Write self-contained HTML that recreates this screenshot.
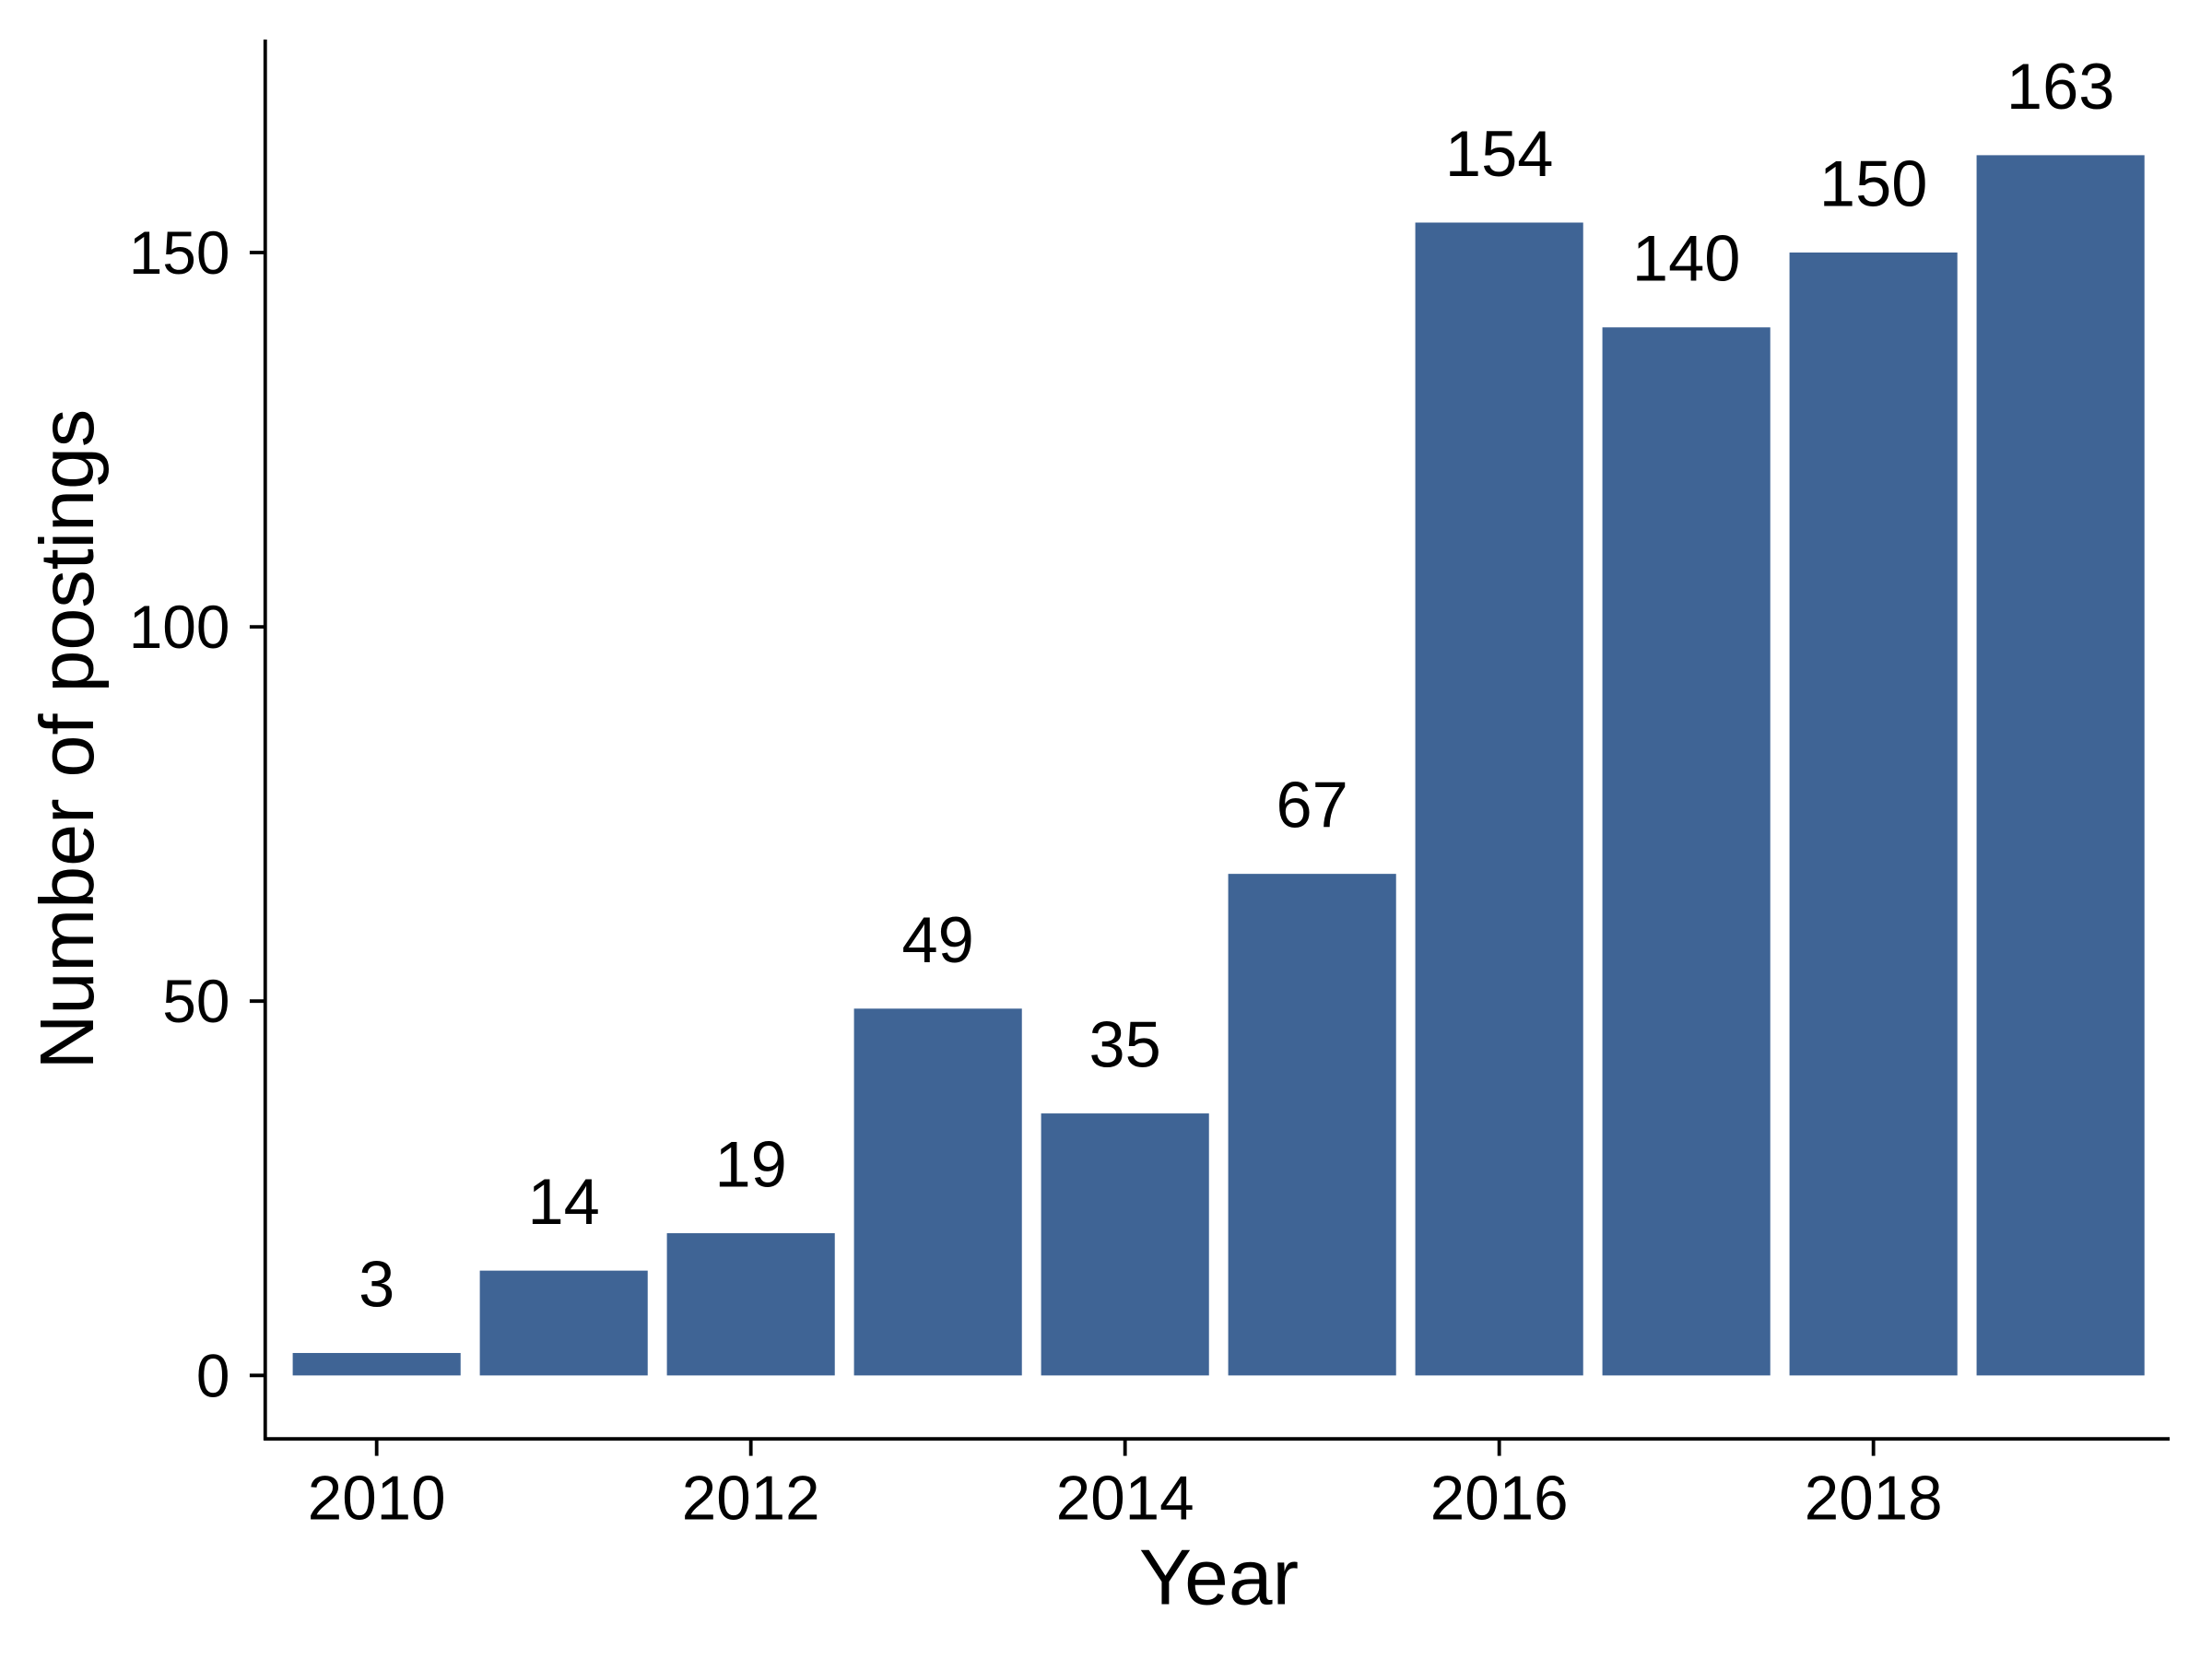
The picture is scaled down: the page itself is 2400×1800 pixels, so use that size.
<!DOCTYPE html>
<html><head><meta charset="utf-8"><style>
html,body{margin:0;padding:0;background:#fff}
svg{display:block}
text{font-family:"Liberation Sans",Arial,sans-serif;fill:#000}
</style></head><body>
<svg id="chart" width="2400" height="1800" viewBox="0 0 1568 1176" xmlns="http://www.w3.org/2000/svg">
<g id="bars"></g>
<g id="labels"></g>
<g id="axes">
<line x1="188" y1="28" x2="188" y2="1021" stroke="#000" stroke-width="2.5"/>
<line x1="187" y1="1020" x2="1538" y2="1020" stroke="#000" stroke-width="2.5"/>
</g>
<g id="yticks"></g>
<g id="xticks"></g>
<text x="864" y="1137" font-size="56" text-anchor="middle">Year</text>
<text transform="translate(66,524) rotate(-90)" font-size="54" text-anchor="middle">Number of postings</text>
</svg>
<script>
const years = [2010,2011,2012,2013,2014,2015,2016,2017,2018,2019];
const postings = [3,14,19,49,35,67,154,140,150,163];
const yTickValues = [0,50,100,150];
const xTickValues = [2010,2012,2014,2016,2018];

const NS = "http://www.w3.org/2000/svg";
const y0 = 975, yPerUnit = (975-179)/150;
const x2010 = 267, xPerYear = (1328-267)/8;
const yScale = v => y0 - v*yPerUnit;
const xScale = yr => x2010 + (yr-2010)*xPerYear;
const barW = 119;

const bars = document.getElementById('bars');
const labels = document.getElementById('labels');
years.forEach((yr,i) => {
  const v = postings[i];
  const r = document.createElementNS(NS,'rect');
  r.setAttribute('x', xScale(yr)-barW/2);
  r.setAttribute('y', yScale(v));
  r.setAttribute('width', barW);
  r.setAttribute('height', y0 - yScale(v));
  r.setAttribute('fill', '#3f6495');
  
  
  bars.appendChild(r);
  const t = document.createElementNS(NS,'text');
  t.setAttribute('x', xScale(yr));
  t.setAttribute('y', yScale(v) - 33);
  t.setAttribute('font-size', '46');
  t.setAttribute('text-anchor', 'middle');
  t.textContent = v;
  
  
  labels.appendChild(t);
});

const yt = document.getElementById('yticks');
yTickValues.forEach(v => {
  const l = document.createElementNS(NS,'line');
  l.setAttribute('x1', 177); l.setAttribute('x2', 188);
  l.setAttribute('y1', yScale(v)); l.setAttribute('y2', yScale(v));
  l.setAttribute('stroke', '#000'); l.setAttribute('stroke-width', '2.5');
  
  
  yt.appendChild(l);
  const t = document.createElementNS(NS,'text');
  t.setAttribute('x', 163); t.setAttribute('y', yScale(v) + 15);
  t.setAttribute('font-size', '43'); t.setAttribute('text-anchor', 'end');
  t.textContent = v;
  
  
  yt.appendChild(t);
});

const xt = document.getElementById('xticks');
xTickValues.forEach(yr => {
  const l = document.createElementNS(NS,'line');
  l.setAttribute('x1', xScale(yr)); l.setAttribute('x2', xScale(yr));
  l.setAttribute('y1', 1020); l.setAttribute('y2', 1032);
  l.setAttribute('stroke', '#000'); l.setAttribute('stroke-width', '2.5');
  
  
  xt.appendChild(l);
  const t = document.createElementNS(NS,'text');
  t.setAttribute('x', xScale(yr)); t.setAttribute('y', 1077);
  t.setAttribute('font-size', '44'); t.setAttribute('text-anchor', 'middle');
  t.textContent = yr;
  
  
  xt.appendChild(t);
});
</script>
</body></html>
